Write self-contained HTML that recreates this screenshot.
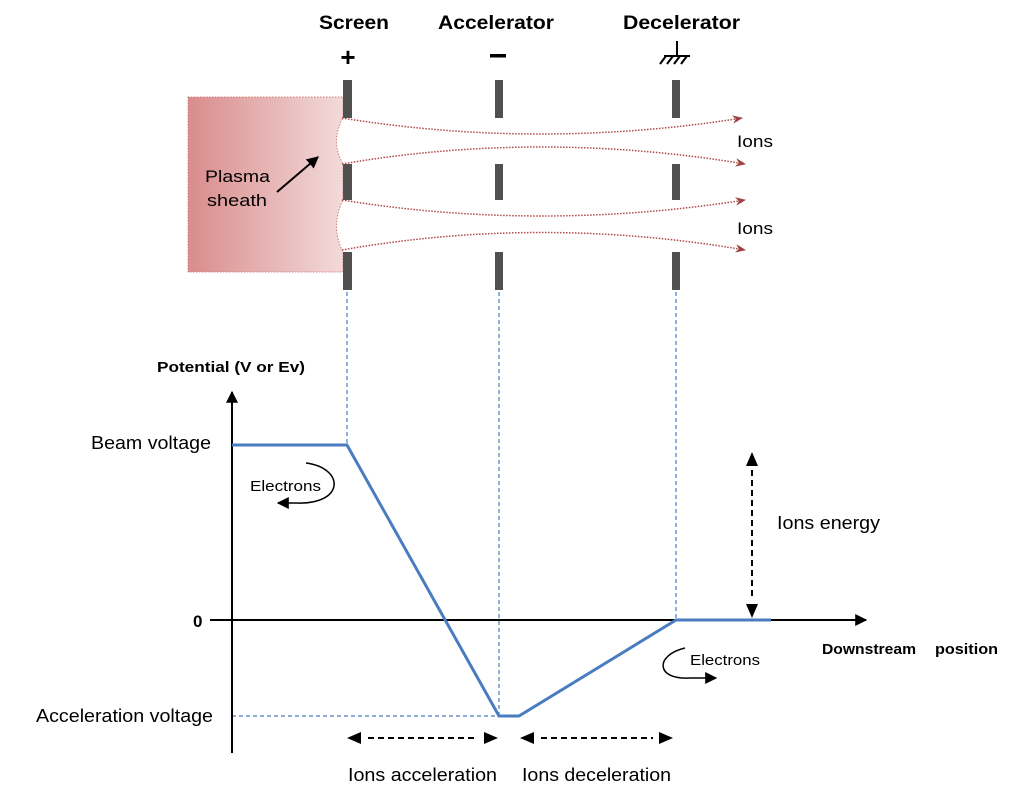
<!DOCTYPE html>
<html><head><meta charset="utf-8"><style>
html,body{margin:0;padding:0;background:#fff}
svg{display:block;font-family:"Liberation Sans",Arial,sans-serif}
</style></head><body>
<svg width="1024" height="789" viewBox="0 0 1024 789" xmlns="http://www.w3.org/2000/svg">
<defs>
<linearGradient id="pg" x1="0" x2="1" y1="0" y2="0">
<stop offset="0" stop-color="#d98c8c"/><stop offset="1" stop-color="#f3dada"/>
</linearGradient>
<marker id="ra" viewBox="0 0 10 10" refX="9" refY="5" markerWidth="7" markerHeight="7" orient="auto"><path d="M0,1 L10,5 L0,9 L3,5z" fill="#a04040"/></marker>
<marker id="ba" viewBox="0 0 10 10" refX="9" refY="5" markerWidth="8" markerHeight="8" orient="auto"><path d="M0,0 L10,5 L0,10z" fill="#000"/></marker>
<marker id="bb" viewBox="0 0 10 10" refX="9" refY="5" markerWidth="6" markerHeight="6" orient="auto"><path d="M0,0 L10,5 L0,10z" fill="#000"/></marker>
</defs>
<path d="M188,97 H343 V118 Q330,141 343,164 V200 Q330,226 343,252 V272 H188Z" fill="url(#pg)" stroke="#d08080" stroke-dasharray="1.5 1.5"/>
<g font-weight="bold" font-size="19">
<text x="319" y="29" textLength="70" lengthAdjust="spacingAndGlyphs">Screen</text>
<text x="438" y="29" textLength="116" lengthAdjust="spacingAndGlyphs">Accelerator</text>
<text x="623" y="29" textLength="117" lengthAdjust="spacingAndGlyphs">Decelerator</text>
</g>
<text x="348" y="66" text-anchor="middle" font-size="26" font-weight="bold">+</text>
<rect x="490" y="54" width="16" height="3.5" fill="#000"/>
<g stroke="#000" stroke-width="2"><line x1="677" y1="41" x2="677" y2="56"/><line x1="664" y1="56" x2="690" y2="56"/><line x1="666" y1="56" x2="660" y2="64"/><line x1="673" y1="56" x2="667" y2="64"/><line x1="680" y1="56" x2="674" y2="64"/><line x1="687" y1="56" x2="681" y2="64"/></g>
<g fill="#505050">
<rect x="343" y="80" width="9" height="38"/><rect x="343" y="164" width="9" height="36"/><rect x="343" y="252" width="9" height="38"/>
<rect x="495" y="80" width="8" height="38"/><rect x="495" y="164" width="8" height="36"/><rect x="495" y="252" width="8" height="38"/>
<rect x="672" y="80" width="8" height="38"/><rect x="672" y="164" width="8" height="36"/><rect x="672" y="252" width="8" height="38"/>
</g>
<g fill="none" stroke="#b04848" stroke-width="1.5" stroke-dasharray="1.5 1.5" marker-end="url(#ra)">
<path d="M342,118 Q540,150 742,118"/>
<path d="M342,164 Q540,130 745,164"/>
<path d="M342,200 Q540,232 745,200"/>
<path d="M342,250 Q540,215 745,250"/>
</g>
<text x="737" y="147" font-size="17" textLength="36" lengthAdjust="spacingAndGlyphs">Ions</text>
<text x="737" y="234" font-size="17" textLength="36" lengthAdjust="spacingAndGlyphs">Ions</text>
<text x="205" y="182" font-size="17" textLength="65" lengthAdjust="spacingAndGlyphs">Plasma</text>
<text x="207" y="206" font-size="17" textLength="60" lengthAdjust="spacingAndGlyphs">sheath</text>
<line x1="277" y1="192" x2="318" y2="157" stroke="#000" stroke-width="2" marker-end="url(#bb)"/>
<g stroke="#4a7cc0" stroke-width="1.2" stroke-dasharray="4 3">
<line x1="347" y1="292" x2="347" y2="445"/>
<line x1="499" y1="292" x2="499" y2="716"/>
<line x1="676" y1="292" x2="676" y2="620"/>
<line x1="232" y1="716" x2="499" y2="716"/>
</g>
<line x1="232" y1="753" x2="232" y2="392" stroke="#000" stroke-width="2" marker-end="url(#bb)"/>
<line x1="210" y1="620" x2="866" y2="620" stroke="#000" stroke-width="2" marker-end="url(#bb)"/>
<text x="157" y="372" font-size="15" font-weight="bold" textLength="148" lengthAdjust="spacingAndGlyphs">Potential (V or Ev)</text>
<text x="822" y="654" font-size="15" font-weight="bold" textLength="94" lengthAdjust="spacingAndGlyphs">Downstream</text>
<text x="935" y="654" font-size="15" font-weight="bold" textLength="63" lengthAdjust="spacingAndGlyphs">position</text>
<text x="91" y="449" font-size="18" textLength="120" lengthAdjust="spacingAndGlyphs">Beam voltage</text>
<text x="193" y="627" font-size="17" font-weight="bold">0</text>
<text x="36" y="722" font-size="18" textLength="177" lengthAdjust="spacingAndGlyphs">Acceleration voltage</text>
<polyline points="232,445 347,445 499,716 519,716 676,620 771,620" fill="none" stroke="#4a7cc0" stroke-width="3"/>
<text x="250" y="491" font-size="15" textLength="71" lengthAdjust="spacingAndGlyphs">Electrons</text>
<path d="M306,463 C345,468 345,505 296,503 L278,503" fill="none" stroke="#000" stroke-width="1.5" marker-end="url(#ba)"/>
<text x="690" y="665" font-size="15" textLength="70" lengthAdjust="spacingAndGlyphs">Electrons</text>
<path d="M685,648 C655,655 655,680 690,678 L716,678" fill="none" stroke="#000" stroke-width="1.5" marker-end="url(#ba)"/>
<g stroke="#000" stroke-width="2" stroke-dasharray="6 4" fill="none">
<line x1="752" y1="470" x2="752" y2="598"/>
<line x1="368" y1="738" x2="478" y2="738"/>
<line x1="541" y1="738" x2="653" y2="738"/>
</g>
<g fill="#000">
<path d="M752,452 L746,466 L758,466Z"/><path d="M752,618 L746,604 L758,604Z"/>
<path d="M347,738 L361,732 L361,744Z"/><path d="M498,738 L484,732 L484,744Z"/>
<path d="M520,738 L534,732 L534,744Z"/><path d="M673,738 L659,732 L659,744Z"/>
</g>
<text x="777" y="529" font-size="18" textLength="103" lengthAdjust="spacingAndGlyphs">Ions energy</text>
<text x="348" y="781" font-size="18" textLength="149" lengthAdjust="spacingAndGlyphs">Ions acceleration</text>
<text x="522" y="781" font-size="18" textLength="149" lengthAdjust="spacingAndGlyphs">Ions deceleration</text>
</svg>
</body></html>
